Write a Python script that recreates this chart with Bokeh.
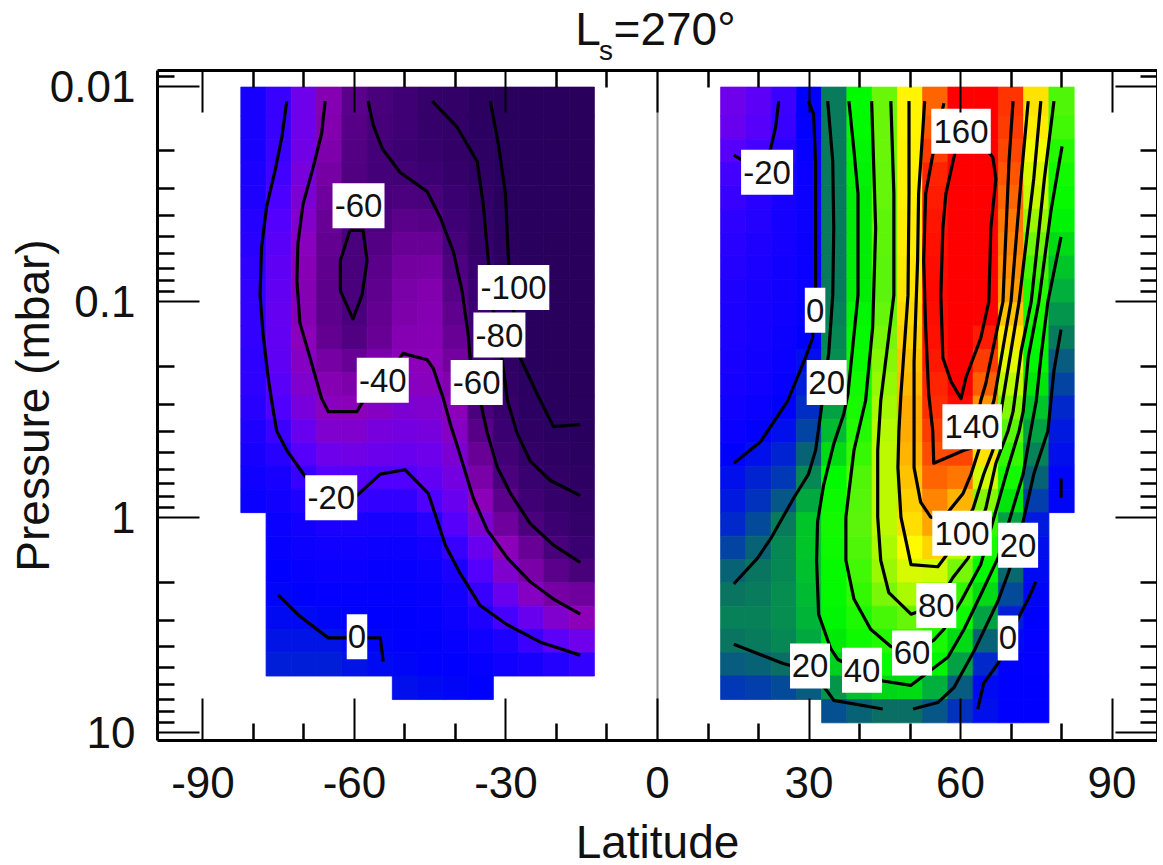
from bokeh.plotting import figure
from bokeh.embed import file_html
from bokeh.resources import INLINE
from bokeh.layouts import column
from bokeh.models import (Range1d, FixedTicker, LinearAxis, LogAxis, Span,
                          CustomJSTickFormatter, LinearColorMapper, ColumnDataSource)
from bokeh.transform import transform
from bokeh.core.properties import value
import numpy as np

# ---- grid -----------------------------------------------------------------
log_p_edges = [-1.995, -1.861, -1.753, -1.645, -1.537, -1.428, -1.320, -1.212, -1.103, -0.995,
               -0.887, -0.778, -0.670, -0.562, -0.454, -0.345, -0.237, -0.129, -0.021, 0.088,
               0.196, 0.304, 0.413, 0.521, 0.629, 0.737, 0.846, 0.954]
lat_south = [-80, -75, -70, -65, -60, -55, -50, -45, -40, -35, -30, -25, -20, -15]
lat_north = [15, 20, 25, 30, 35, 40, 45, 50, 55, 60, 65, 70, 75, 80]
N = None
wind_south = [
    [-8, -15, -30, -42, -55, -62, -68, -79, -85, -97, -103, -108, -110, -112],
    [-8, -15, -30, -43, -56, -63, -69, -78, -85, -96, -103, -108, -110, -112],
    [-8, -16, -31, -44, -57, -65, -70, -76, -84, -94, -103, -108, -110, -112],
    [-9, -17, -33, -46, -58, -65, -66, -70, -79, -90, -103, -108, -110, -112],
    [-10, -19, -35, -48, -59, -62, -60, -62, -72, -85, -102, -108, -110, -112],
    [-11, -21, -37, -50, -60, -60, -55, -56, -68, -80, -100, -108, -110, -112],
    [-12, -23, -39, -52, -61, -57, -50, -50, -63, -78, -98, -108, -112, -114],
    [-13, -25, -41, -53, -62, -55, -47, -46, -59, -75, -97, -108, -112, -114],
    [-14, -26, -42, -54, -62, -53, -45, -43, -56, -72, -96, -108, -112, -114],
    [-14, -27, -42, -54, -61, -52, -44, -42, -53, -70, -95, -108, -112, -114],
    [-14, -26, -40, -52, -58, -50, -42, -41, -50, -68, -92, -106, -112, -114],
    [-13, -25, -38, -46, -50, -45, -40, -40, -47, -66, -88, -104, -112, -114],
    [-13, -23, -36, -42, -44, -41, -38, -39, -43, -62, -82, -100, -110, -112],
    [-12, -20, -33, -39, -40, -38, -35, -36, -40, -60, -76, -95, -106, -110],
    [-10, -16, -28, -36, -36, -33, -32, -33, -38, -56, -72, -90, -100, -105],
    [-8, -12, -22, -30, -31, -29, -28, -30, -35, -50, -66, -82, -92, -100],
    [-5, -8, -15, -22, -22, -20, -20, -26, -32, -45, -60, -74, -85, -93],
    [-3, -6, -10, -14, -15, -14, -14, -20, -28, -40, -55, -68, -78, -87],
    [N, -3, -6, -9, -9, -8, -8, -12, -22, -35, -48, -60, -70, -80],
    [N, -2, -4, -5, -5, -4, -4, -7, -15, -28, -40, -50, -62, -72],
    [N, 0, -2, -3, -3, -2, -2, -4, -9, -21, -36, -45, -55, -62],
    [N, 1, 0, -1, -1, -1, -1, -2, -6, -15, -28, -38, -46, -48],
    [N, 2, 2, 1, 0, 0, 0, -1, -4, -10, -18, -28, -36, -40],
    [N, 4, 4, 4, 2, 1, 0, 0, -2, -5, -10, -16, -24, -30],
    [N, 6, 6, 6, 4, 2, 1, 0, 0, -2, -5, -8, -11, -14],
    [N, N, N, N, N, N, 3, 2, 1, 0, N, N, N, N],
    [N, N, N, N, N, N, N, N, N, N, N, N, N, N],
]
wind_north = [
    [-30, -24, -16, 0, 22, 45, 73, 101, 132, 158, 158, 142, 105, 68],
    [-28, -22, -15, -1, 22, 45, 73, 101, 135, 160, 160, 140, 103, 65],
    [-22, -18, -12, -2, 22, 44, 73, 102, 140, 162, 162, 138, 98, 58],
    [-17, -14, -9, -3, 22, 43, 72, 102, 146, 165, 165, 135, 93, 52],
    [-15, -12, -8, -4, 22, 42, 72, 102, 148, 165, 165, 132, 90, 48],
    [-13, -11, -7, -4, 22, 42, 71, 103, 150, 167, 165, 128, 82, 43],
    [-12, -10, -7, -3, 22, 42, 71, 103, 151, 168, 164, 126, 74, 38],
    [-11, -9, -6, -3, 22, 42, 70, 104, 152, 170, 163, 123, 66, 34],
    [-10, -8, -6, -3, 22, 42, 70, 105, 153, 170, 162, 120, 58, 30],
    [-9, -7, -5, -2, 23, 44, 72, 107, 152, 168, 155, 112, 54, 26],
    [-9, -7, -4, 0, 24, 46, 75, 109, 151, 165, 148, 104, 48, 22],
    [-8, -6, -3, 3, 25, 48, 78, 112, 149, 162, 140, 95, 44, 17],
    [-7, -5, -2, 6, 26, 51, 81, 114, 146, 159, 133, 88, 40, 13],
    [-5, -3, 0, 9, 28, 54, 84, 117, 144, 152, 122, 78, 34, 8],
    [-3, -1, 3, 13, 32, 58, 87, 117, 140, 145, 115, 70, 28, 5],
    [0, 3, 7, 18, 38, 63, 88, 115, 137, 138, 105, 62, 23, 3],
    [3, 7, 11, 24, 45, 68, 88, 112, 132, 128, 92, 52, 18, 1],
    [5, 10, 16, 29, 49, 69, 88, 109, 125, 115, 78, 40, 12, 1],
    [8, 14, 22, 34, 52, 70, 88, 106, 118, 100, 62, 28, 5, N],
    [13, 18, 24, 34, 50, 68, 85, 100, 108, 88, 54, 23, 3, N],
    [18, 21, 24, 33, 47, 65, 82, 93, 92, 75, 46, 19, 2, N],
    [21, 22, 25, 32, 46, 62, 76, 85, 80, 62, 38, 14, 1, N],
    [23, 23, 25, 31, 44, 56, 66, 72, 65, 50, 28, 6, 0, N],
    [21, 22, 24, 29, 41, 50, 58, 62, 54, 38, 18, 2, -1, N],
    [17, 18, 20, 24, 36, 42, 48, 50, 44, 28, 8, 0, -1, N],
    [11, 12, 14, 17, 26, 33, 37, 38, 30, 17, 2, 0, 0, N],
    [N, N, N, N, 15, 18, 20, 20, 16, 10, 3, 0, 0, N],
]

# ---- contours: (latitude, log10 pressure) ----------------------------------
s_m20 = [(-73.4,-1.93),(-74.4,-1.76),(-75.7,-1.61),(-77.4,-1.44),(-78.4,-1.25),(-78.7,-1.03),(-78.1,-0.85),
         (-77.1,-0.65),(-76.4,-0.54),(-75.4,-0.40),(-73.4,-0.31),(-69.8,-0.19),(-65.0,-0.09),(-59.5,-0.10),
         (-54.9,-0.20),(-50.0,-0.22),(-45.4,-0.11),(-44.4,-0.04),(-42.0,0.13),(-39.1,0.26),(-35.1,0.41),
         (-29.7,0.50),(-23.2,0.58),(-15.3,0.64)]
s_m40 = [(-65.8,-1.93),(-66.5,-1.78),(-68.2,-1.62),(-70.2,-1.45),(-71.2,-1.27),(-71.4,-1.10),(-70.8,-0.90),
         (-68.8,-0.74),(-66.5,-0.55),(-65.2,-0.49),(-59.5,-0.49),(-58.5,-0.53),(-53.9,-0.64),(-50.4,-0.76),
         (-45.6,-0.73),(-44.4,-0.69),(-42.4,-0.55),(-41.0,-0.43),(-39.1,-0.29),(-36.5,-0.09),(-33.7,0.06),
         (-29.7,0.19),(-25.2,0.30),(-20.6,0.38),(-15.3,0.45)]
s_m60_loop = [(-60.9,-1.33),(-62.8,-1.19),(-62.8,-1.05),(-60.3,-0.92),(-58.5,-1.03),(-57.5,-1.19),(-58.3,-1.33),(-60.9,-1.33)]
s_m60 = [(-57.3,-1.93),(-56.3,-1.82),(-54.5,-1.71),(-51.0,-1.60),(-45.6,-1.51),(-43.0,-1.39),(-40.4,-1.23),
         (-38.7,-1.05),(-37.5,-0.85),(-37.1,-0.74),(-35.1,-0.54),(-33.7,-0.39),(-31.7,-0.23),(-29.1,-0.11),
         (-25.2,0.03),(-20.6,0.13),(-15.3,0.21)]
s_m80 = [(-44.6,-1.93),(-39.7,-1.81),(-35.7,-1.65),(-34.5,-1.45),(-33.5,-1.19),(-32.5,-0.96),(-30.7,-0.72),
         (-29.7,-0.54),(-27.8,-0.39),(-25.2,-0.26),(-21.2,-0.17),(-15.3,-0.10)]
s_m100 = [(-33.1,-1.93),(-31.5,-1.73),(-30.1,-1.50),(-29.5,-1.19),(-28.5,-0.96),(-27.2,-0.74),(-23.8,-0.57),
          (-20.6,-0.42),(-15.3,-0.43)]
s_0 = [(-75.1,0.36),(-70.8,0.46),(-65.2,0.56),(-54.9,0.56),(-54.3,0.67)]

n_m20 = [(24.0,-1.93),(23.4,-1.81),(22.4,-1.71),(20.4,-1.61),(16.5,-1.66),(15.1,-1.68)]
n_0 = [(29.9,-1.93),(30.9,-1.87),(31.3,-1.65),(31.3,-1.19),(31.3,-1.06),(30.7,-0.83),(29.3,-0.74),
       (25.8,-0.54),(20.4,-0.35),(15.1,-0.25)]
n_20a = [(33.7,-1.93),(34.7,-1.65),(34.9,-1.34),(34.7,-1.03),(33.9,-0.76),(31.9,-0.41),(31.3,-0.31),
         (29.9,-0.20),(27.0,-0.09),(22.4,0.10),(19.8,0.19),(15.1,0.31)]
n_40 = [(37.9,-1.93),(38.9,-1.70),(39.7,-1.50),(39.7,-1.03),(37.7,-0.57),(36.9,-0.48),(34.9,-0.34),(32.9,-0.15),
        (31.7,0.02),(31.5,0.20),(31.9,0.45),(34.3,0.61),(35.7,0.66),(44.6,0.76),(50.2,0.78),(54.1,0.71),
        (57.5,0.65),(60.7,0.52),(64.0,0.36),(67.4,0.19),(69.6,0.02),(72.4,-0.20),(73.9,-0.40),(75.0,-0.54),
        (75.9,-0.74),(77.3,-1.00),(79.9,-1.30)]
n_20b = [(15.1,0.59),(25.0,0.68),(30.1,0.71),(33.7,0.81),(34.9,0.85),(44.6,0.89)]
n_20c = [(50.6,0.89),(55.5,0.86),(58.7,0.79),(62.7,0.62),(67.4,0.39),(69.6,0.25),(72.4,0.02),(74.5,-0.20),
         (77.3,-0.40),(78.5,-0.68),(79.9,-0.87)]
n_60 = [(42.4,-1.93),(43.2,-1.34),(42.6,-0.88),(41.2,-0.54),(38.9,-0.31),(37.3,0.00),(37.3,0.20),(38.9,0.38),
        (42.2,0.52),(46.2,0.60),(50.4,0.63),(54.7,0.57),(56.7,0.52),(60.1,0.39),(64.0,0.22),(66.4,0.02),
        (69.4,-0.23),(71.6,-0.40),(72.4,-0.49),(73.4,-0.74),(75.5,-1.00),(77.9,-1.42),(80.1,-1.72)]
n_80 = [(46.2,-1.93),(46.8,-1.50),(46.8,-1.03),(44.2,-0.54),(43.6,-0.31),(43.6,0.00),(44.2,0.20),(45.8,0.35),
        (50.2,0.45),(55.1,0.41),(58.5,0.28),(61.5,0.19),(65.0,-0.04),(67.0,-0.25),(69.4,-0.40),(70.4,-0.49),
        (72.0,-0.77),(74.0,-1.00),(75.3,-1.28),(76.6,-1.57),(78.5,-1.93)]
n_100 = [(49.8,-1.93),(49.8,-1.50),(49.6,-1.03),(48.2,-0.57),(47.8,-0.40),(47.6,-0.23),(48.2,0.00),(50.2,0.22),
         (55.5,0.23),(57.1,0.18),(60.1,0.06),(62.5,-0.04),(64.6,-0.20),(66.4,-0.31),(68.0,-0.49),(71.6,-1.00),
         (74.5,-1.57),(75.9,-1.93)]
n_120 = [(52.9,-1.93),(51.7,-1.50),(51.5,-1.19),(50.8,-0.72),(50.8,-0.54),(50.8,-0.23),(52.1,-0.07),(54.1,0.00),
         (56.5,0.01),(58.1,-0.04),(60.5,-0.11),(62.1,-0.20),(63.6,-0.31),(66.6,-0.54),(70.0,-1.00),(72.0,-1.57),
         (73.4,-1.93)]
n_140 = [(56.7,-1.92),(54.5,-1.68),(53.1,-1.50),(52.7,-1.19),(53.1,-0.88),(53.7,-0.57),(54.5,-0.40),(54.7,-0.25),
         (60.7,-0.31),(62.1,-0.32),(64.0,-0.54),(65.0,-0.62),(66.6,-0.80),(68.4,-1.00),(69.6,-1.65),(70.4,-1.93)]
n_160 = [(60.1,-1.79),(58.7,-1.67),(57.1,-1.50),(56.5,-1.34),(56.1,-1.03),(56.5,-0.74),(58.1,-0.63),(60.1,-0.55),
         (61.1,-0.65),(64.0,-0.83),(65.6,-1.00),(66.0,-1.34),(67.0,-1.57),(66.4,-1.67),(62.1,-1.79),(60.1,-1.79)]
n_0b = [(74.9,0.30),(73.4,0.38),(71.4,0.47),(67.4,0.68),(64.6,0.77),(63.4,0.89)]
n_0c = [(79.9,-0.18),(79.9,-0.09)]

contours = [s_m20, s_m40, s_m60_loop, s_m60, s_m80, s_m100, s_0, n_m20, n_0, n_20a, n_40, n_20b, n_20c,
            n_60, n_80, n_100, n_120, n_140, n_160, n_0b, n_0c]

label_text = ["-60", "-100", "-80", "-60", "-40", "-20", "0", "-20", "160", "0", "20", "140", "100", "20",
              "80", "0", "60", "40", "20"]
label_lat = [-59.2, -28.5, -31.3, -35.8, -54.4, -64.6, -59.5, 21.7, 60.1, 31.2, 33.5, 62.3, 60.3, 71.4,
             55.2, 69.4, 50.4, 40.5, 30.2]
label_logp = [-1.445, -1.065, -0.845, -0.625, -0.635, -0.09, 0.555, -1.60, -1.79, -0.96, -0.625, -0.42,
              0.075, 0.13, 0.41, 0.56, 0.63, 0.71, 0.69]

x_major = [-90, -60, -30, 0, 30, 60, 90]
x_minor = [-80, -70, -50, -40, -20, -10, 10, 20, 40, 50, 70, 80]
y_major = [0.01, 0.1, 1, 10]
y_minor = [0.009] + [m * d for d in (0.01, 0.1, 1) for m in range(2, 10)]

# ---- colour scale ------------------------------------------------------------
stops = [(-120,(40,0,90)),(-100,(42,0,96)),(-80,(52,0,105)),(-70,(60,0,115)),(-60,(75,0,125)),(-50,(105,0,150)),
         (-40,(140,0,185)),(-30,(110,0,235)),(-20,(80,0,255)),(-10,(30,0,255)),(0,(0,0,255)),(10,(0,50,190)),
         (20,(10,110,100)),(30,(0,175,60)),(40,(0,230,10)),(45,(0,250,0)),(60,(40,250,0)),(70,(90,245,10)),
         (85,(170,250,0)),(100,(255,250,0)),(115,(255,180,0)),(130,(255,110,0)),(140,(255,60,0)),(155,(255,0,0)),
         (175,(255,0,0))]
sv = [s[0] for s in stops]
levels = np.arange(-120, 176)
palette = ["#%02x%02x%02x" % tuple(int(round(np.interp(l, sv, [s[1][c] for s in stops]))) for c in range(3))
           for l in levels]
mapper = LinearColorMapper(palette=palette, low=-120, high=175)

# ---- figure ------------------------------------------------------------------
FONT = "Liberation Sans"
INK = "#111111"

head = figure(output_backend="svg", toolbar_location=None, frame_width=1000, frame_height=66,
              min_border_left=157, min_border_top=0, min_border_right=0, min_border_bottom=0,
              x_range=Range1d(-99, 99), y_range=Range1d(0, 66),
              x_axis_location=None, y_axis_location=None, outline_line_color=None)
head.grid.visible = False
head.text(x=[-16.3], y=[12], text=["L"], text_font=value(FONT), text_font_size="46px",
          text_baseline="bottom", text_color=INK)
head.text(x=[-11.6], y=[1], text=["s"], text_font=value(FONT), text_font_size="28px",
          text_baseline="bottom", text_color=INK)
head.text(x=[-8.7], y=[12], text=["=270°"], text_font=value(FONT), text_font_size="46px",
          text_baseline="bottom", text_color=INK)

p = figure(output_backend="svg", toolbar_location=None, frame_width=1000, frame_height=670,
           min_border_left=157, min_border_top=4, min_border_right=0, min_border_bottom=125,
           x_range=Range1d(-99, 99), y_range=Range1d(10 ** 1.036, 10 ** -2.072), y_axis_type="log",
           background_fill_color="white", border_fill_color="white")
p.grid.visible = False
p.outline_line_color = None

zero = Span(location=0, dimension="height", line_color="#8a8a8a", line_width=2, level="underlay")
p.add_layout(zero)

cells = dict(left=[], right=[], top=[], bottom=[], v=[])
for lats, table in ((lat_south, wind_south), (lat_north, wind_north)):
    for r, row in enumerate(table):
        for lat, v in zip(lats, row):
            if v is None:
                continue
            cells["left"].append(lat - 2.5)
            cells["right"].append(lat + 2.5)
            cells["top"].append(10 ** log_p_edges[r])
            cells["bottom"].append(10 ** log_p_edges[r + 1])
            cells["v"].append(v)
fill = transform("v", mapper)
p.quad(left="left", right="right", top="top", bottom="bottom", source=ColumnDataSource(cells),
       fill_color=fill, line_color=fill, line_width=0.8)

p.multi_line(xs=[[a for a, _ in c] for c in contours],
             ys=[[10 ** b for _, b in c] for c in contours],
             line_color="black", line_width=3.2, line_join="round")

def box_w(t):
    return 19.5 * sum(ch.isdigit() for ch in t) + 12 * t.startswith("-") + 1

lab = ColumnDataSource(dict(x=label_lat, y=[10 ** v for v in label_logp], t=label_text,
                            w=[box_w(t) for t in label_text]))
p.rect(x="x", y="y", width="w", height=45, width_units="screen", height_units="screen", source=lab,
       fill_color="white", line_color=None)
p.text(x="x", y="y", text="t", source=lab, text_font=value(FONT), text_font_size="33px",
       text_align="center", text_baseline="middle", text_color=INK)

def style(ax, labelled):
    ax.axis_line_color = "black"
    ax.axis_line_width = 3
    ax.major_tick_in = 42
    ax.major_tick_out = 0
    ax.minor_tick_in = 17
    ax.minor_tick_out = 0
    ax.major_tick_line_color = "black"
    ax.minor_tick_line_color = "black"
    ax.major_tick_line_width = 2
    ax.minor_tick_line_width = 2.5
    ax.major_label_text_font = FONT
    ax.major_label_text_color = INK
    ax.major_label_text_font_size = "44px" if labelled else "0px"
    ax.axis_label_text_font = FONT
    ax.axis_label_text_font_size = "46px"
    ax.axis_label_text_font_style = "normal"
    ax.axis_label_text_color = INK
    if not labelled:
        ax.major_label_standoff = 0
        ax.formatter = CustomJSTickFormatter(code="return ''")

xt = FixedTicker(ticks=x_major, minor_ticks=x_minor)
yt = FixedTicker(ticks=y_major, minor_ticks=y_minor)

bottom = p.xaxis[0]
bottom.ticker = xt
style(bottom, True)
bottom.formatter = CustomJSTickFormatter(code="return String(tick)")
bottom.major_label_standoff = 26
bottom.axis_label = "Latitude"
bottom.axis_label_standoff = 15

left = p.yaxis[0]
left.ticker = yt
style(left, True)
left.major_label_standoff = 22
left.formatter = CustomJSTickFormatter(code="return String(Number(tick.toPrecision(2)))")
left.axis_label = "Pressure (mbar)"
left.axis_label_standoff = -12

top_ax = LinearAxis(ticker=xt)
style(top_ax, False)
p.add_layout(top_ax, "above")
right_ax = LogAxis(ticker=yt)
style(right_ax, False)
p.add_layout(right_ax, "right")

layout = column(head, p, spacing=0)
open("out.html", "w").write(file_html(layout, INLINE))
